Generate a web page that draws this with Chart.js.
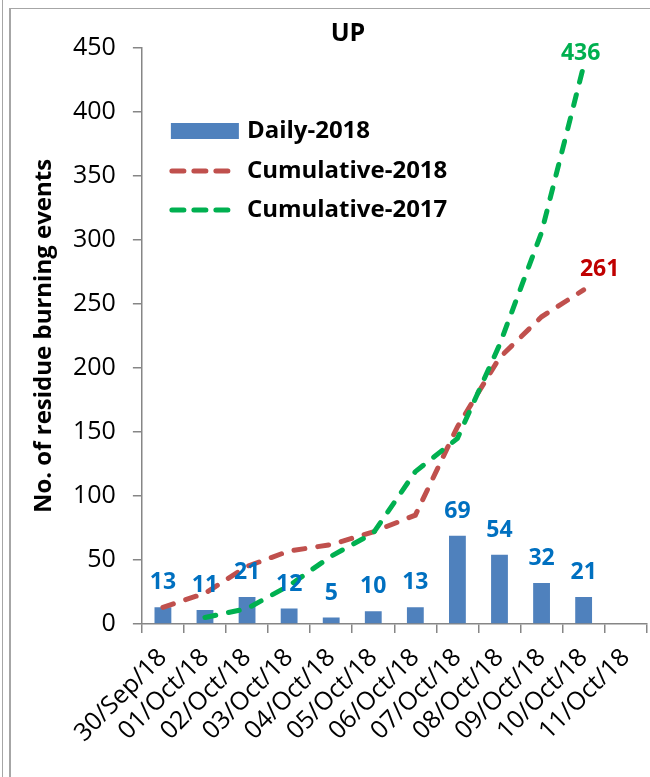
<!DOCTYPE html>
<html>
<head>
<meta charset="utf-8">
<title>UP</title>
<script src="https://cdn.jsdelivr.net/npm/chart.js@4"></script>
<style>
  html, body { margin: 0; padding: 0; background: #fff; }
  .wrap { position: relative; width: 650px; height: 777px; overflow: hidden; }
  .frame-outer { position: absolute; left: 2px; top: 0; bottom: 0; border-left: 1px solid #a6a6a6; }
  .frame-inner { position: absolute; left: 9px; top: 8px; right: -10px; bottom: -10px; border-left: 2px solid #a6a6a6; border-top: 1px solid #a6a6a6; }
  canvas { position: absolute; left: 0; top: 0; }
</style>
</head>
<body>
<div class="wrap">
  <div class="frame-outer"></div>
  <div class="frame-inner"></div>
  <canvas id="chart" width="657" height="777"></canvas>
</div>
<script>
const days           = ['30/Sep/18', '01/Oct/18', '02/Oct/18', '03/Oct/18', '04/Oct/18', '05/Oct/18',
                        '06/Oct/18', '07/Oct/18', '08/Oct/18', '09/Oct/18', '10/Oct/18', '11/Oct/18'];
const daily2018      = [13, 11, 21, 12, 5, 10, 13, 69, 54, 32, 21, null];
const cumulative2018 = [13, 24, 45, 57, 62, 72, 85, 154, 208, 240, 261, null];
const cumulative2017 = [null, 5, 12, 30, 53, 71, 119, 145, 218, 306, 436, null];

const FONT  = '"Open Sans", "Liberation Sans", sans-serif';
const GREY  = '#868686';
const BLUE  = '#4F81BD';
const RED   = '#C0504D';
const GREEN = '#00B050';

// labels, legend and title drawn on top of the chart
const extras = {
  id: 'extras',
  afterDatasetsDraw(chart) {
    const { ctx, chartArea } = chart;
    ctx.save();

    // values over the bars
    ctx.font = `bold 23px ${FONT}`;
    ctx.fillStyle = '#0070C0';
    ctx.textAlign = 'center';
    ctx.textBaseline = 'alphabetic';
    chart.getDatasetMeta(0).data.forEach((bar, i) => {
      if (daily2018[i] == null) return;
      ctx.fillText(String(daily2018[i]), bar.x, bar.y - 18);
    });

    // end values of the cumulative lines
    const last = arr => arr.map((v, i) => v == null ? -1 : i).reduce((a, b) => Math.max(a, b));
    const r = chart.getDatasetMeta(1).data[last(cumulative2018)];
    ctx.fillStyle = '#C00000';
    ctx.fillText(String(cumulative2018[last(cumulative2018)]), r.x + 16, r.y - 14);
    const g = chart.getDatasetMeta(2).data[last(cumulative2017)];
    ctx.fillStyle = GREEN;
    ctx.fillText(String(cumulative2017[last(cumulative2017)]), g.x - 3, g.y - 6);

    // title
    ctx.fillStyle = '#000';
    ctx.font = `bold 25px ${FONT}`;
    ctx.textBaseline = 'middle';
    ctx.fillText('UP', 348, chartArea.top - 14);

    // legend
    const lx = chartArea.left + 29;
    const rows = [chartArea.top + 83, chartArea.top + 123, chartArea.top + 162];
    ctx.fillStyle = BLUE;
    ctx.fillRect(lx, rows[0] - 8, 68, 16);
    ctx.lineWidth = 5;
    ctx.lineCap = 'round';
    ctx.setLineDash([12, 10]);
    [[RED, rows[1]], [GREEN, rows[2]]].forEach(([c, y]) => {
      ctx.strokeStyle = c;
      ctx.beginPath();
      ctx.moveTo(lx + 1, y);
      ctx.lineTo(lx + 59, y);
      ctx.stroke();
    });
    ctx.setLineDash([]);
    ctx.font = `bold 24px ${FONT}`;
    ctx.fillStyle = '#000';
    ctx.textAlign = 'left';
    chart.data.datasets.forEach((ds, i) => ctx.fillText(ds.label, lx + 76, rows[i]));

    ctx.restore();
  }
};

new Chart(document.getElementById('chart'), {
  type: 'bar',
  data: {
    labels: days,
    datasets: [
      {
        label: 'Daily-2018',
        data: daily2018,
        backgroundColor: BLUE,
        barPercentage: 0.4,
        categoryPercentage: 1,
        order: 3,
      },
      {
        type: 'line',
        label: 'Cumulative-2018',
        data: cumulative2018,
        borderColor: RED,
        borderWidth: 5,
        borderDash: [11, 13],
        borderCapStyle: 'round',
        pointRadius: 0,
        tension: 0,
        fill: false,
        order: 2,
      },
      {
        type: 'line',
        label: 'Cumulative-2017',
        data: cumulative2017,
        borderColor: GREEN,
        borderWidth: 5,
        borderDash: [11, 13],
        borderCapStyle: 'round',
        pointRadius: 0,
        tension: 0,
        fill: false,
        order: 1,
      },
    ]
  },
  options: {
    responsive: false,
    animation: false,
    layout: { padding: { left: 32, right: 2, top: 48, bottom: 19 } },
    plugins: {
      legend: { display: false },
      title: { display: false },
      tooltip: { enabled: false },
    },
    scales: {
      x: {
        grid: { drawOnChartArea: false, drawTicks: true, tickLength: 9, color: GREY, lineWidth: 1.5 },
        border: { color: GREY, width: 1.5 },
        ticks: {
          color: '#000',
          font: { family: FONT, size: 25 },
          maxRotation: 45,
          minRotation: 45,
          autoSkip: false,
          padding: 10,
        },
      },
      y: {
        min: 0,
        max: 450,
        grid: { drawOnChartArea: false, drawTicks: true, tickLength: 9, color: GREY, lineWidth: 1.5 },
        border: { color: GREY, width: 1.5 },
        ticks: { stepSize: 50, color: '#000', font: { family: FONT, size: 25 }, padding: 17 },
        title: {
          display: true,
          text: 'No. of residue burning events',
          color: '#000',
          font: { family: FONT, size: 24, weight: 'bold', lineHeight: 1 },
          padding: { top: 0, bottom: 0 },
        },
      },
    },
  },
  plugins: [extras],
});
</script>
</body>
</html>
